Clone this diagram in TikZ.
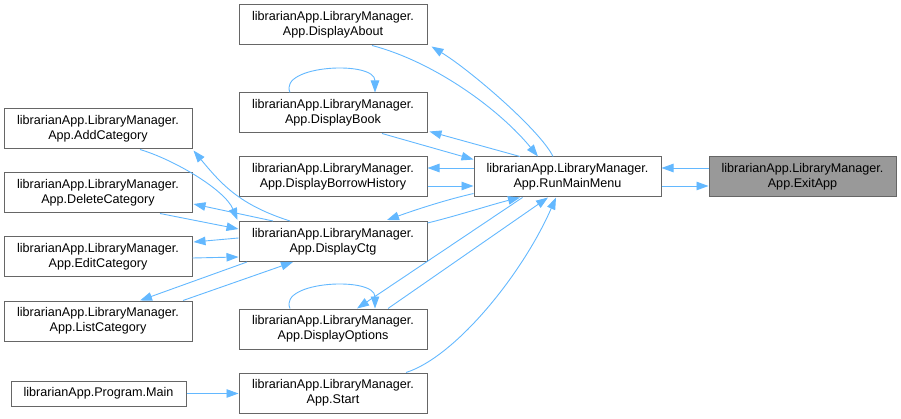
\documentclass[tikz,border=0pt]{standalone}
\usepackage{fontspec}
\setmainfont{Liberation Sans}
\usetikzlibrary{arrows.meta}
\definecolor{edgeblue}{HTML}{63B8FF}
\definecolor{boxborder}{HTML}{666666}
\definecolor{boxgrey}{HTML}{999999}
\begin{document}
\begin{tikzpicture}[x=1pt,y=-1pt,
  box/.style={draw=boxborder, line width=1pt, fill=white, minimum width=188pt, minimum height=40pt, inner sep=0pt, align=center, font=\fontsize{12.6}{15}\selectfont},
  edge/.style={draw=edgeblue, line width=0.9pt, -{Triangle[length=12pt,width=8.5pt]}}]
\useasboundingbox (0,0) rectangle (901,419);
% middle column
\node[box] (dab) at (333,25) {librarianApp.LibraryManager.\\App.DisplayAbout};
\node[box] (dbk) at (333,113) {librarianApp.LibraryManager.\\App.DisplayBook};
\node[box] (dbh) at (333,177) {librarianApp.LibraryManager.\\App.DisplayBorrowHistory};
\node[box] (dct) at (333,241.5) {librarianApp.LibraryManager.\\App.DisplayCtg};
\node[box] (dop) at (333,329) {librarianApp.LibraryManager.\\App.DisplayOptions};
\node[box] (sta) at (333,393) {librarianApp.LibraryManager.\\App.Start};
% left column
\node[box] (adc) at (98,129) {librarianApp.LibraryManager.\\App.AddCategory};
\node[box] (dlc) at (98,193) {librarianApp.LibraryManager.\\App.DeleteCategory};
\node[box] (edc) at (98,257) {librarianApp.LibraryManager.\\App.EditCategory};
\node[box] (lsc) at (98,321) {librarianApp.LibraryManager.\\App.ListCategory};
\node[box, minimum width=175pt, minimum height=25pt] (mai) at (98.5,393.5) {librarianApp.Program.Main};
% right
\node[box, minimum width=187pt] (rmm) at (567.5,177) {librarianApp.LibraryManager.\\App.RunMainMenu};
\node[box, minimum width=187pt, fill=boxgrey] (exi) at (802.5,177) {librarianApp.LibraryManager.\\App.ExitApp};
% edges RunMainMenu <-> ExitApp
\draw[edge] ([yshift=9pt]exi.west) -- ([yshift=9pt]rmm.east);
\draw[edge] ([yshift=-9pt]rmm.east) -- ([yshift=-9pt]exi.west);
% DisplayAbout
\draw[edge] ([xshift=-14.5pt]rmm.north) .. controls (540,130) and (470,70) .. ([xshift=4pt,yshift=-1pt]dab.south east);
\draw[edge] ([xshift=39pt]dab.south) .. controls (435,62) and (500,110) .. ([xshift=-29.5pt]rmm.north);
% DisplayBook
\draw[edge] ([xshift=-47.5pt]rmm.north) -- ([xshift=2pt,yshift=2pt]dbk.south east);
\draw[edge] ([xshift=49pt]dbk.south) -- ([yshift=-3pt]rmm.north west);
\draw[edge] ([xshift=-43pt]dbk.north) .. controls (278,65) and (375,60) .. ([xshift=42pt]dbk.north);
% DisplayBorrowHistory
\draw[edge] ([yshift=9pt]rmm.west) -- ([yshift=9pt]dbh.east);
\draw[edge] ([yshift=-9pt]dbh.east) -- ([yshift=-9pt]rmm.west);
% DisplayCtg
\draw[edge] ([yshift=4pt]rmm.south west) .. controls (445,200) and (415,210) .. ([xshift=54pt,yshift=1pt]dct.north);
\draw[edge] ([yshift=-2pt]dct.north east) .. controls (460,215) and (490,205) .. ([xshift=-47.5pt]rmm.south);
% DisplayOptions
\draw[edge] ([xshift=-45pt]rmm.south) -- ([xshift=24pt]dop.north);
\draw[edge] ([xshift=55pt]dop.north) -- ([xshift=-19.5pt]rmm.south);
\draw[edge] ([xshift=-43pt]dop.north) .. controls (278,281) and (375,276) .. ([xshift=42pt]dop.north);
% Start
\draw[edge] ([xshift=73pt]sta.north) .. controls (455,357) and (522,275) .. ([xshift=-11.5pt]rmm.south);
\draw[edge] (mai.east) -- (mai.east -| sta.west);
% DisplayCtg <-> categories
\draw[edge] ([xshift=-43pt]dct.north) .. controls (240,205) and (222,185) .. ([xshift=1pt,yshift=-1pt]adc.south east);
\draw[edge] ([xshift=42pt]adc.south) .. controls (175,160) and (225,190) .. ([xshift=-1pt,yshift=1pt]dct.north west);
\draw[edge] ([xshift=-60pt]dct.north) -- ([xshift=1pt,yshift=-11pt]dlc.east);
\draw[edge] ([xshift=62pt]dlc.south) -- ([yshift=12.5pt]dct.west);
\draw[edge] ([yshift=3.5pt]dct.west) -- ([xshift=1pt,yshift=15pt]edc.east);
\draw[edge] ([yshift=-1pt]edc.east) -- ([yshift=-15.5pt]dct.west);
\draw[edge] ([xshift=-86pt]dct.south) -- ([xshift=42pt]lsc.north);
\draw[edge] ([xshift=85pt]lsc.north) -- ([xshift=-40pt]dct.south);
\end{tikzpicture}
\end{document}
